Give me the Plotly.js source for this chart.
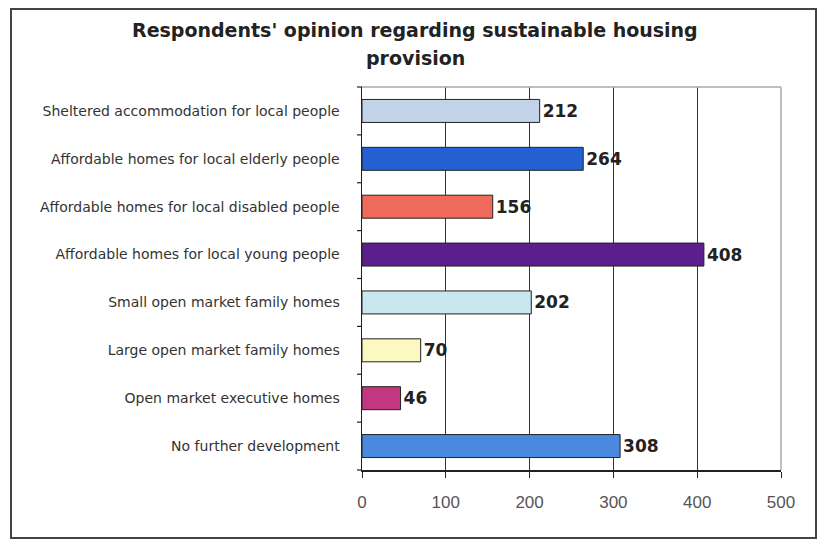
<!DOCTYPE html>
<html>
<head>
<meta charset="utf-8">
<script src="https://cdn.plot.ly/plotly-3.0.1.min.js"></script>
<style>
html,body{margin:0;padding:0;background:#fff;}
#chart{width:822px;height:541px;}
</style>
</head>
<body>
<div id="chart"></div>
<script>
const categories = [
  "Sheltered accommodation for local people",
  "Affordable homes for local elderly people",
  "Affordable homes for local disabled people",
  "Affordable homes for local young people",
  "Small open market family homes",
  "Large open market family homes",
  "Open market executive homes",
  "No further development"
];
const values = [212, 264, 156, 408, 202, 70, 46, 308];
const barColors = ["#c3d4ea", "#2361d3", "#f06a5c", "#5b1e8c", "#c9e7ef", "#fbf8c2", "#c23682", "#4a89de"];
const xTicks = [0, 100, 200, 300, 400, 500];
const titleLines = ["Respondents' opinion regarding sustainable housing", "provision"];

const L = 362, R = 781, T = 87, B = 470;
const W = 822, H = 541;
const px = v => (v - L) / (R - L);
const py = v => (B - v) / (B - T);

const trace = {
  type: "bar",
  orientation: "h",
  y: categories,
  x: values,
  marker: {color: barColors, line: {color: "#222", width: 1}},
  text: values.map(String),
  textposition: "outside",
  cliponaxis: false,
  textfont: {family: "DejaVu Sans, sans-serif", size: 17, color: "#222", weight: "bold"},
  width: 0.48,
  hoverinfo: "none"
};

const tickLines = [];
for (let i = 0; i <= categories.length; i++) {
  tickLines.push({
    type: "line", xref: "paper", yref: "paper",
    x0: px(L - 5), x1: 0, y0: i / categories.length, y1: i / categories.length,
    line: {color: "#222", width: 1.2}
  });
}

const layout = {
  width: W, height: H,
  margin: {l: L, r: W - R, t: T, b: H - B, pad: 0},
  paper_bgcolor: "#fff",
  plot_bgcolor: "#fff",
  showlegend: false,
  font: {family: "Liberation Sans, Arial, sans-serif"},
  annotations: titleLines.map((t, i) => ({
    text: "<b>" + t + "</b>",
    xref: "paper", yref: "paper",
    x: px(415), y: py(30 + i * 28),
    xanchor: "center", yanchor: "middle",
    showarrow: false,
    font: {family: "DejaVu Sans, sans-serif", size: 19, color: "#222"}
  })),
  xaxis: {
    range: [0, 500],
    tickvals: xTicks,
    ticktext: xTicks.map(String),
    showgrid: true, gridcolor: "#333", gridwidth: 1,
    zeroline: false,
    showline: true, linecolor: "#222", linewidth: 1.5,
    ticks: "outside", ticklen: 6, tickcolor: "#222",
    tickfont: {family: "Liberation Sans, Arial, sans-serif", size: 17, color: "#555"},
    ticklabelstandoff: 10,
    fixedrange: true
  },
  yaxis: {
    categoryorder: "array",
    categoryarray: categories.slice().reverse(),
    autorange: false,
    range: [-0.5, categories.length - 0.5],
    showline: true, linecolor: "#222", linewidth: 1.5,
    ticks: "",
    showgrid: false,
    tickfont: {family: "DejaVu Sans, sans-serif", size: 14, color: "#333"},
    ticklabelstandoff: 18,
    fixedrange: true
  },
  shapes: [
    {type: "rect", xref: "paper", yref: "paper",
     x0: px(11), x1: px(816), y0: py(538), y1: py(9),
     line: {color: "#444", width: 2}, fillcolor: "rgba(0,0,0,0)", layer: "below"},
    {type: "line", xref: "paper", yref: "paper",
     x0: 0, x1: 1, y0: 1, y1: 1, line: {color: "#aaa", width: 1.5}},
    {type: "line", xref: "paper", yref: "paper",
     x0: 1, x1: 1, y0: 0, y1: 1, line: {color: "#aaa", width: 1.5}}
  ].concat(tickLines)
};

Plotly.newPlot("chart", [trace], layout, {displayModeBar: false, staticPlot: true});
</script>
</body>
</html>
